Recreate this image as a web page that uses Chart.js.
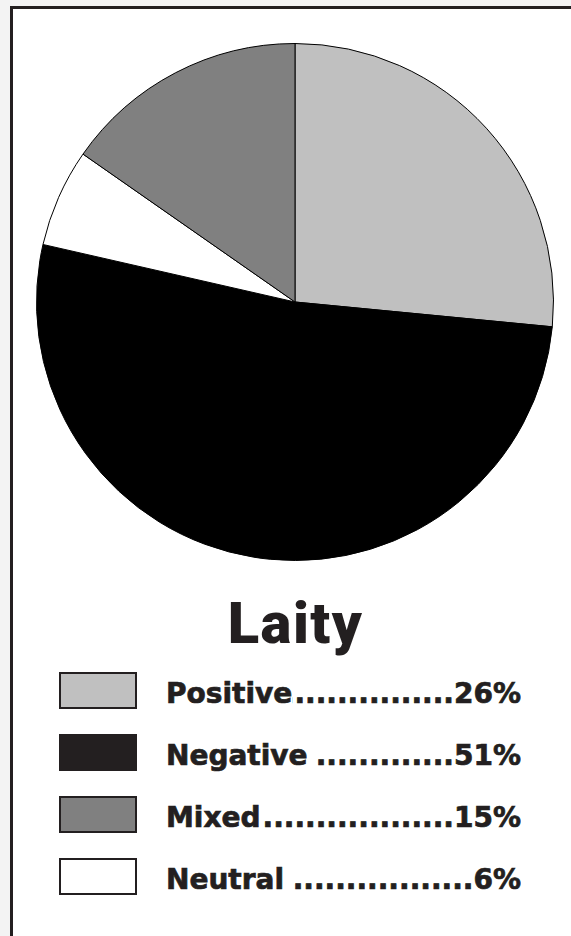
<!DOCTYPE html>
<html>
<head>
<meta charset="utf-8">
<script src="https://cdn.jsdelivr.net/npm/chart.js@4"></script>
<style>
  html, body { margin: 0; padding: 0; overflow: hidden; }
  body { width: 571px; height: 936px; background: #f3f3f3; position: relative; }
  #frame {
    position: absolute; left: 10px; top: 6px; width: 570px; height: 940px;
    background: #fff; border-left: 3px solid #231f20; border-top: 3px solid #231f20;
  }
  #pieWrap { position: absolute; left: 36px; top: 43px; width: 518px; height: 518px; }
  #titulo {
    position: absolute; left: 0; width: 591px; top: 588px; text-align: center;
    font-family: Roboto, 'Liberation Sans', sans-serif; font-weight: 900; font-size: 58px;
    color: #231f20; line-height: 70px; letter-spacing: 1.5px;
  }
  .linha { position: absolute; left: 59px; width: 462px; height: 37px; display: flex; align-items: center; }
  .caixa { width: 74px; height: 33px; border: 2px solid #231f20; flex: none; }
  .texto {
    display: flex; margin-left: 29px; flex: 1; overflow: hidden; white-space: nowrap;
    font-family: 'DejaVu Sans', sans-serif; font-weight: bold; font-size: 28px; color: #231f20;
    -webkit-text-stroke: 0.7px #231f20;
    position: relative; top: 3px;
  }
  .pontos { flex: 1; overflow: hidden; direction: rtl; text-align: right; }
</style>
</head>
<body>
<div id="frame"></div>
<div id="pieWrap"><canvas id="pieLaity" width="518" height="518"></canvas></div>
<div id="titulo"></div>
<div id="legenda"></div>
<script>
// dados do grafico de pizza
const titulo = 'Laity';
const categorias = ['Positive', 'Negative', 'Neutral', 'Mixed'];
const valores = [26, 51, 6, 15];
const cores = ['#c0c0c0', '#000000', '#ffffff', '#808080'];
const coresLegenda = ['#c0c0c0', '#231f20', '#ffffff', '#808080'];
// ordem da legenda e espaco antes dos pontos
const ordemLegenda = [0, 1, 3, 2];
const espacos = ['', ' ', '', ' '];

document.getElementById('titulo').textContent = titulo;

const legenda = document.getElementById('legenda');
ordemLegenda.forEach((i, n) => {
    const linha = document.createElement('div');
    linha.className = 'linha';
    linha.style.top = (672 + n * 62) + 'px';
    const caixa = document.createElement('div');
    caixa.className = 'caixa';
    caixa.style.background = coresLegenda[i];
    const texto = document.createElement('div');
    texto.className = 'texto';
    const nome = document.createElement('span');
    nome.textContent = categorias[i] + espacos[n];
    nome.style.whiteSpace = 'pre';
    const pontos = document.createElement('span');
    pontos.className = 'pontos';
    pontos.textContent = '.'.repeat(60);
    const valor = document.createElement('span');
    valor.textContent = valores[i] + '%';
    texto.append(nome, pontos, valor);
    linha.append(caixa, texto);
    legenda.appendChild(linha);
});

const configPie = {
    type: 'pie',
    data: {
        labels: categorias,
        datasets: [{
            data: valores,
            backgroundColor: cores,
            borderColor: '#000000',
            borderWidth: 1
        }]
    },
    options: {
        responsive: false,
        animation: false,
        layout: { padding: 0 },
        plugins: {
            legend: { display: false },
            tooltip: { enabled: false },
            title: { display: false }
        }
    }
};

new Chart(document.getElementById('pieLaity').getContext('2d'), configPie);
</script>
</body>
</html>
